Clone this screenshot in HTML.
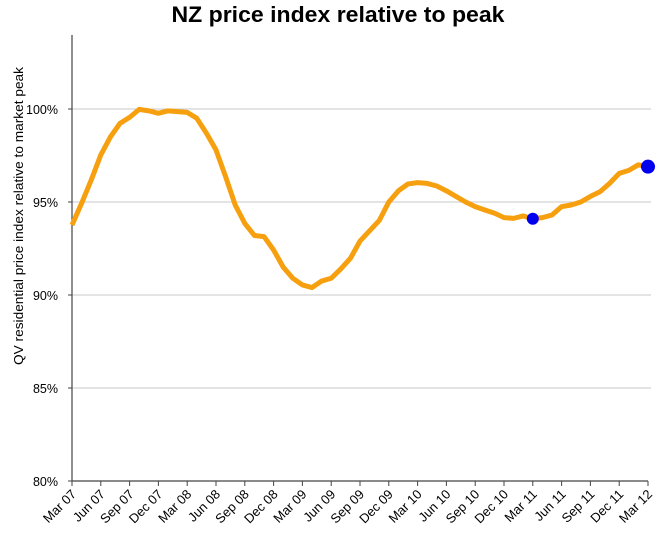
<!DOCTYPE html>
<html><head><meta charset="utf-8"><style>
body{margin:0;background:#fff;}
svg text{font-family:"Liberation Sans",sans-serif;}
</style></head><body>
<svg width="670" height="540" viewBox="0 0 670 540">
<text x="338" y="22" text-anchor="middle" font-size="22" font-weight="bold" textLength="333" lengthAdjust="spacingAndGlyphs">NZ price index relative to peak</text>
<text transform="translate(23,216) rotate(-90)" text-anchor="middle" font-size="12.5" textLength="298" lengthAdjust="spacingAndGlyphs">QV residential price index relative to market peak</text>
<g id="grid"></g><g id="axes"></g><g id="series"></g>
</svg>
<script>
const tickLabels=["Mar 07","Jun 07","Sep 07","Dec 07","Mar 08","Jun 08","Sep 08","Dec 08","Mar 09","Jun 09","Sep 09","Dec 09","Mar 10","Jun 10","Sep 10","Dec 10","Mar 11","Jun 11","Sep 11","Dec 11","Mar 12"];
const yTicks=[80,85,90,95,100];
const values=[93.76,94.93,96.18,97.53,98.5,99.23,99.55,99.98,99.9,99.77,99.9,99.86,99.82,99.5,98.7,97.8,96.36,94.84,93.85,93.2,93.14,92.42,91.5,90.9,90.54,90.4,90.75,90.9,91.4,91.97,92.9,93.45,94.0,95.0,95.6,95.97,96.04,96.0,95.86,95.6,95.3,95.0,94.75,94.57,94.4,94.16,94.12,94.25,94.1,94.16,94.3,94.75,94.84,95.0,95.3,95.55,96.0,96.54,96.7,97.0,96.9];
const markerIdx=[48,60];
const NS="http://www.w3.org/2000/svg";
const x0=72,x1=648,yMin=80,yBot=481;
function xs(i){return x0+(x1-x0)*i/(values.length-1);}
function ys(v){return yBot-(v-yMin)*(93/5);}
function mk(tag,attrs,parent){const e=document.createElementNS(NS,tag);for(const k in attrs)e.setAttribute(k,attrs[k]);document.getElementById(parent).appendChild(e);return e;}
yTicks.forEach(v=>{
  if(v>yMin){const g=mk('line',{x1:x0,x2:651,y1:ys(v),y2:ys(v),stroke:'#c8c8c8','stroke-width':1},'grid');
  
  }
  const t=mk('text',{x:58,y:ys(v)+5,'text-anchor':'end','font-size':12.5},'axes');t.textContent=v+'%';
  
  
  mk('line',{x1:x0-4,x2:x0,y1:ys(v),y2:ys(v),stroke:'#444'},'axes');
});
let a=mk('line',{x1:x0,x2:x0,y1:35,y2:yBot,stroke:'#444','stroke-width':1.2},'axes');


a=mk('line',{x1:x0,x2:x1,y1:yBot,y2:yBot,stroke:'#444','stroke-width':1.2},'axes');


tickLabels.forEach((l,k)=>{
  const x=xs(k*3);
  mk('line',{x1:x,x2:x,y1:yBot,y2:yBot+5,stroke:'#444'},'axes');
  const t=mk('text',{x:0,y:0,'text-anchor':'end','font-size':13,transform:`translate(${x+5},${yBot+14}) rotate(-45)`},'axes');
  t.textContent=l;
  
  
});
const p=mk('polyline',{points:values.map((v,i)=>xs(i)+','+ys(v)).join(' '),fill:'none',stroke:'#f7a00f','stroke-width':5,'stroke-linejoin':'round'},'series');


markerIdx.forEach((i,k)=>{
  const c=mk('circle',{cx:xs(i),cy:ys(values[i]),r:k?7:6,fill:'#0000ee'},'series');
  
  
});
</script>
</body></html>
